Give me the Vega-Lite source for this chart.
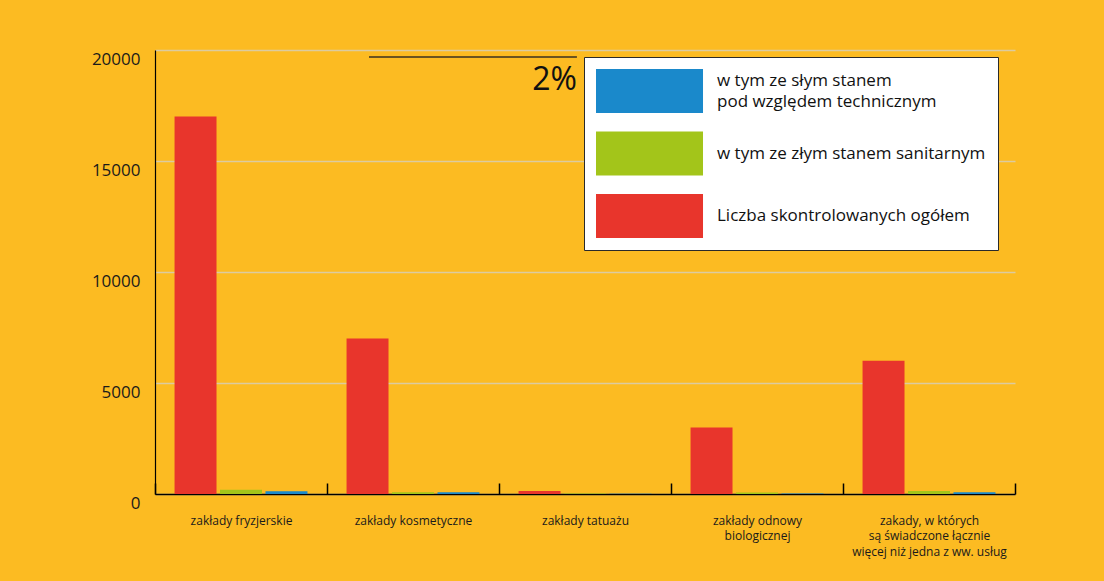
{
  "$schema": "https://vega.github.io/schema/vega-lite/v6.json",
  "width": 860,
  "height": 444,
  "autosize": "none",
  "padding": {"left": 155, "top": 50, "right": 89, "bottom": 87},
  "background": "#FCBB22",
  "config": {"view": {"stroke": null}, "font": "Open Sans"},
  "datasets": {
    "bars": [
      {"kategoria": "zakłady fryzjerskie", "seria": "Liczba skontrolowanych ogółem", "wartosc": 17000},
      {"kategoria": "zakłady fryzjerskie", "seria": "w tym ze złym stanem sanitarnym", "wartosc": 190},
      {"kategoria": "zakłady fryzjerskie", "seria": "w tym ze słym stanem pod względem technicznym", "wartosc": 120},
      {"kategoria": "zakłady kosmetyczne", "seria": "Liczba skontrolowanych ogółem", "wartosc": 7000},
      {"kategoria": "zakłady kosmetyczne", "seria": "w tym ze złym stanem sanitarnym", "wartosc": 80},
      {"kategoria": "zakłady kosmetyczne", "seria": "w tym ze słym stanem pod względem technicznym", "wartosc": 80},
      {"kategoria": "zakłady tatuażu", "seria": "Liczba skontrolowanych ogółem", "wartosc": 130},
      {"kategoria": "zakłady tatuażu", "seria": "w tym ze złym stanem sanitarnym", "wartosc": 20},
      {"kategoria": "zakłady tatuażu", "seria": "w tym ze słym stanem pod względem technicznym", "wartosc": 15},
      {"kategoria": "zakłady odnowy biologicznej", "seria": "Liczba skontrolowanych ogółem", "wartosc": 3000},
      {"kategoria": "zakłady odnowy biologicznej", "seria": "w tym ze złym stanem sanitarnym", "wartosc": 70},
      {"kategoria": "zakłady odnowy biologicznej", "seria": "w tym ze słym stanem pod względem technicznym", "wartosc": 20},
      {"kategoria": "zakady, w których są świadczone łącznie więcej niż jedna z ww. usług", "seria": "Liczba skontrolowanych ogółem", "wartosc": 6000},
      {"kategoria": "zakady, w których są świadczone łącznie więcej niż jedna z ww. usług", "seria": "w tym ze złym stanem sanitarnym", "wartosc": 130},
      {"kategoria": "zakady, w których są świadczone łącznie więcej niż jedna z ww. usług", "seria": "w tym ze słym stanem pod względem technicznym", "wartosc": 80}
    ],
    "annot": [
      {"x": 1.244, "x2": 2.453, "y": 19685, "y_t": 18200, "label": "2%"}
    ]
  },
  "layer": [
    {
      "data": {"name": "bars"},
      "mark": {"type": "bar"},
      "encoding": {
        "x": {
          "field": "kategoria",
          "type": "nominal",
          "sort": null,
          "scale": {"paddingInner": 0, "paddingOuter": 0},
          "axis": {
            "title": null,
            "labelAngle": 0,
            "tickBand": "extent",
            "tickSize": -11,
            "tickColor": "#000",
            "tickWidth": 1.5,
            "domainColor": "#000",
            "domainWidth": 1.5,
            "labelFont": "Open Sans",
            "labelFontSize": 12,
            "labelColor": "#1a1a1a",
            "labelPadding": 32,
            "labelLineHeight": 15.5,
            "labelLimit": 300,
            "labelExpr": "datum.value == 'zakłady odnowy biologicznej' ? ['zakłady odnowy', 'biologicznej'] : datum.value == 'zakady, w których są świadczone łącznie więcej niż jedna z ww. usług' ? ['zakady, w których', 'są świadczone łącznie', 'więcej niż jedna z ww. usług'] : datum.label"
          }
        },
        "xOffset": {
          "field": "seria",
          "type": "nominal",
          "scale": {
            "domain": ["Liczba skontrolowanych ogółem", "w tym ze złym stanem sanitarnym", "w tym ze słym stanem pod względem technicznym"],
            "paddingInner": 0.077,
            "paddingOuter": 0.43
          }
        },
        "y": {
          "field": "wartosc",
          "type": "quantitative",
          "title": null,
          "scale": {"domain": [0, 20000], "nice": false},
          "axis": {
            "values": [0, 5000, 10000, 15000, 20000],
            "format": "d",
            "ticks": false,
            "domainColor": "#000",
            "domainWidth": 1.2,
            "gridColor": "#DCCBA0",
            "gridWidth": 1.5,
            "labelFont": "Open Sans",
            "labelFontSize": 17,
            "labelColor": "#1a1a1a",
            "labelPadding": 15,
            "labelOffset": 9.5
          }
        },
        "color": {
          "field": "seria",
          "type": "nominal",
          "scale": {
            "domain": ["w tym ze słym stanem pod względem technicznym", "w tym ze złym stanem sanitarnym", "Liczba skontrolowanych ogółem"],
            "range": ["#1A89CB", "#A3C51A", "#E8352C"]
          },
          "legend": {
            "orient": "none",
            "legendX": 429,
            "legendY": 7,
            "title": null,
            "fillColor": "#ffffff",
            "strokeColor": "#2a2a2a",
            "padding": 12,
            "symbolType": "M-1,-1H3.864V1H-1Z",
            "symbolSize": 1936,
            "symbolStrokeWidth": 0,
            "labelOffset": 77,
            "labelFont": "Open Sans",
            "labelFontSize": 17,
            "labelColor": "#111111",
            "labelLimit": 400,
            "rowPadding": 18.5,
            "labelExpr": "datum.label == 'w tym ze słym stanem pod względem technicznym' ? ['w tym ze słym stanem', 'pod względem technicznym'] : datum.label",
            "encode": {
              "labels": {
                "update": {
                  "lineHeight": {"value": 21},
                  "dy": {"signal": "datum.value == 'w tym ze słym stanem pod względem technicznym' ? -10.5 : 0"}
                }
              }
            }
          }
        }
      }
    },
    {
      "data": {"name": "annot"},
      "mark": {"type": "rule", "color": "#3a3020", "strokeWidth": 1.5},
      "encoding": {
        "x": {"field": "x", "type": "quantitative", "scale": {"domain": [0, 5], "nice": false, "zero": false}, "axis": null},
        "x2": {"field": "x2"},
        "y": {"field": "y", "type": "quantitative", "title": null}
      }
    },
    {
      "data": {"name": "annot"},
      "mark": {"type": "text", "align": "right", "baseline": "alphabetic", "fontSize": 32, "color": "#111111", "font": "Open Sans"},
      "encoding": {
        "x": {"field": "x2", "type": "quantitative", "scale": {"domain": [0, 5], "nice": false, "zero": false}, "axis": null},
        "y": {"field": "y_t", "type": "quantitative", "title": null},
        "text": {"field": "label"}
      }
    }
  ],
  "resolve": {"scale": {"x": "independent"}}
}
